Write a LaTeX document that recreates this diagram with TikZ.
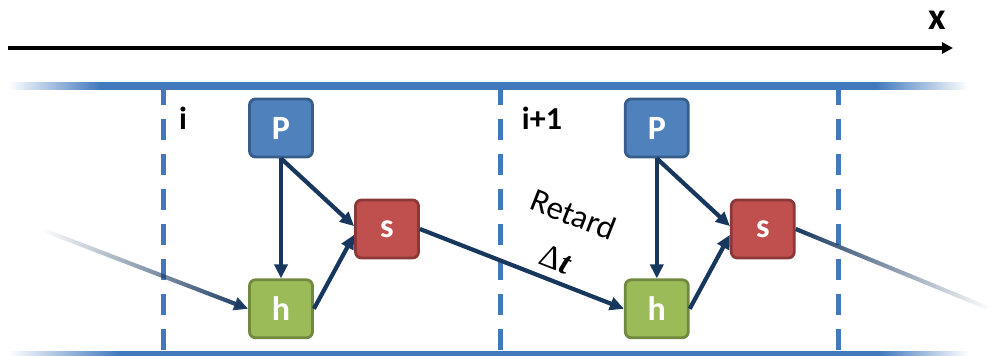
\documentclass[tikz,border=0pt]{standalone}
\usepackage{fontspec}
\setmainfont{Carlito}
\newfontfamily\deltafont{Liberation Serif}
\usetikzlibrary{arrows.meta,positioning,fadings}
\definecolor{bandblue}{HTML}{4279BD}
\definecolor{navy}{HTML}{17375E}
\definecolor{pfill}{HTML}{4F81BD}
\definecolor{pdraw}{HTML}{385D8A}
\definecolor{sfill}{HTML}{C0504D}
\definecolor{sdraw}{HTML}{8C3836}
\definecolor{hfill}{HTML}{9BBB59}
\definecolor{hdraw}{HTML}{71893F}
\tikzfading[name=fadein, left color=transparent!100, right color=transparent!0]
\tikzfading[name=fadeout, left color=transparent!0, right color=transparent!100]
\pgfdeclarehorizontalshading{topband}{100bp}{color(0bp)=(white); color(25bp)=(white); color(29.8bp)=(bandblue); color(70.2bp)=(bandblue); color(75bp)=(white); color(100bp)=(white)}
\pgfdeclarehorizontalshading{botband}{100bp}{color(0bp)=(white); color(25bp)=(white); color(30.8bp)=(bandblue); color(70.4bp)=(bandblue); color(75bp)=(white); color(100bp)=(white)}

\begin{document}
\begin{tikzpicture}[
    x=1pt, y=1pt,
    var/.style={rounded corners=6pt, line width=2.8pt, minimum width=63pt, minimum height=58pt, inner sep=0pt, text=white, font=\fontsize{34}{40}\selectfont\bfseries},
    pvar/.style={var, fill=pfill, draw=pdraw},
    svar/.style={var, fill=sfill, draw=sdraw},
    hvar/.style={var, fill=hfill, draw=hdraw},
    cell/.style={font=\fontsize{32}{36}\selectfont\bfseries, inner sep=0pt},
    lbl/.style={font=\fontsize{33}{40}\selectfont, text=black, inner sep=0pt},
    arrow/.style={-{Triangle[length=14pt,width=13pt]}, line width=4.2pt, color=navy},
    axis/.style={-{Triangle[length=11pt,width=11pt]}, line width=3.6pt, color=black},
    cellline/.style={bandblue, line width=5pt, dash pattern=on 21pt off 14pt, dash phase=5pt},
]
\useasboundingbox (0,0) rectangle (988,-356);

% --- axis ---
\coordinate (xs) at (8,-48);
\coordinate (xe) at (953,-48);
\draw[axis] (xs) -- (xe);
\node[font=\fontsize{38}{40}\selectfont\bfseries, inner sep=0pt] (xlab) at (937,-20) {x};

% --- bands ---
\shade[shading=topband] (8,-82) rectangle (968,-89);
\shade[shading=botband] (8,-351) rectangle (968,-358);

% cell borders
\foreach \x in {163,500,838}
    \draw[cellline] (\x,-89) -- (\x,-351);

\node[cell] (ci) at (183,-118) {i};
\node[cell] (cii) at (542,-118) {i+1};

% --- cell i ---
\node[pvar] (p1) at (281,-128) {P};
\node[hvar, below=120pt of p1] (h1) {h};
\node[svar] (s1) at (387,-229) {s};

% --- cell i+1 ---
\node[pvar, right=310pt of p1] (p2) {P};
\node[hvar, below=120pt of p2] (h2) {h};
\node[svar, right=310pt of s1] (s2) {s};

\coordinate (in) at (43,-230);
\coordinate (out) at (988,-308);

% --- arrows ---
\draw[arrow, path fading=fadein] (in) -- (h1.west);
\draw[arrow] (p1) -- (h1);
\draw[arrow] (p1.south) -- (s1.175);
\draw[arrow] (h1.east) -- (s1.190);
\draw[arrow] (s1.east) -- node[lbl, pos=0.63, sloped, above=8pt] (dt) {\deltafont Δ\textbf{\textit{t}}}
    node[lbl, pos=0.63, sloped, above=56pt] (ret) {Retard} (h2.west);
\draw[arrow] (p2) -- (h2);
\draw[arrow] (p2.south) -- (s2.175);
\draw[arrow] (h2.east) -- (s2.190);
\draw[line width=4.2pt, navy, path fading=fadeout] (s2.east) -- (out);

\end{tikzpicture}
\end{document}
